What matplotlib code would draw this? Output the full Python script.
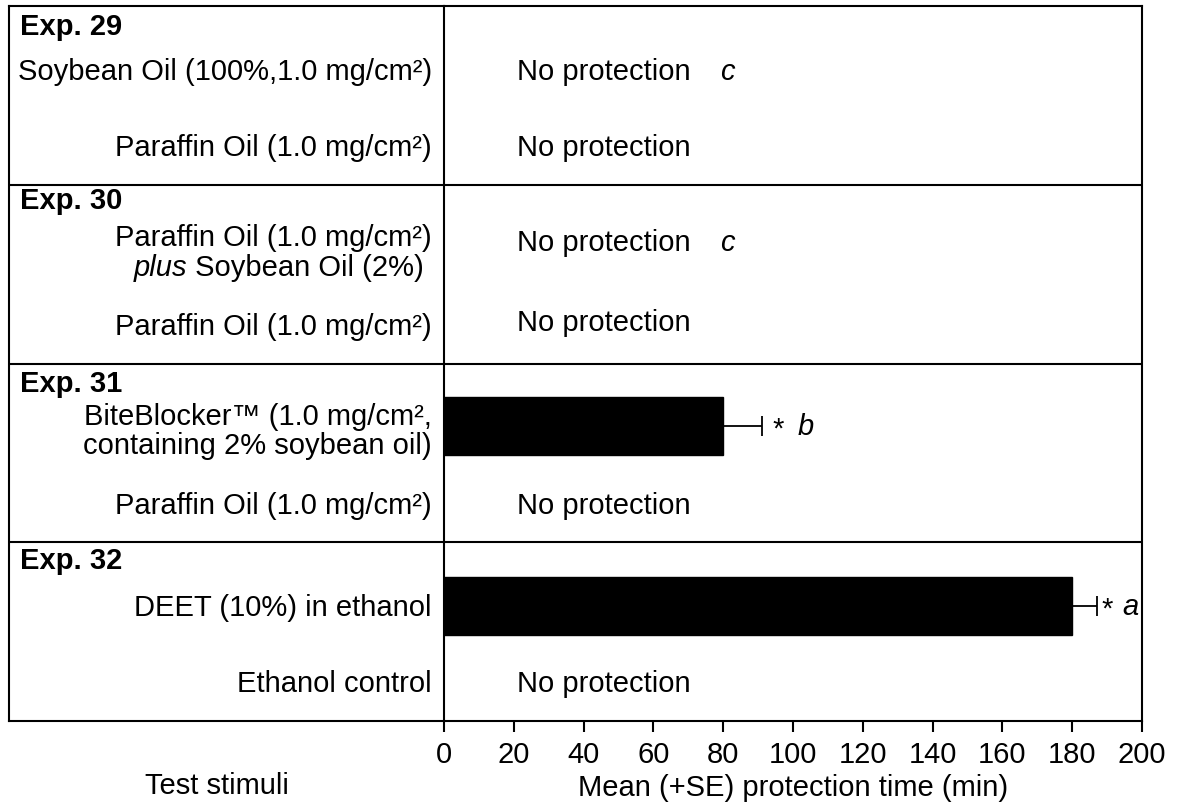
import matplotlib
matplotlib.use("Agg")
import matplotlib.pyplot as plt
import numpy as np

plt.rcParams['font.family'] = ['Liberation Sans', 'DejaVu Sans']

# --- data -------------------------------------------------------------
experiments = ["Exp. 29", "Exp. 30", "Exp. 31", "Exp. 32"]

stimuli = [
    "Soybean Oil (100%,1.0 mg/cm²)",
    "Paraffin Oil (1.0 mg/cm²)",
    "Paraffin Oil (1.0 mg/cm²)\nplus Soybean Oil (2%) ",
    "Paraffin Oil (1.0 mg/cm²)",
    "BiteBlocker™ (1.0 mg/cm²,\ncontaining 2% soybean oil)",
    "Paraffin Oil (1.0 mg/cm²)",
    "DEET (10%) in ethanol",
    "Ethanol control",
]
italic_words = ["plus"]
stim_exp = [0, 0, 1, 1, 2, 2, 3, 3]          # experiment each stimulus belongs to
mean_time = [0, 0, 0, 0, 80, 0, 180, 0]      # mean protection time (min)
se_time = [0, 0, 0, 0, 11, 0, 7, 0]          # standard error (min)
letters = ["c", "", "c", "", "b", "", "a", ""]
significant = [False, False, False, False, True, False, True, False]
xticks = list(range(0, 201, 20))

# --- layout within each experiment block (block height = 1) -------------
row_offset = [0.365, 0.79, 0.32, 0.77, 0.35, 0.79, 0.355, 0.79]
label_offset = [0.365, 0.79, 0.375, 0.79, 0.375, 0.79, 0.36, 0.79]
exp_title_offset = [0.11, 0.085, 0.11, 0.10]
line_step = 0.166

W, H = 1179, 812
fig = plt.figure(figsize=(W / 100, H / 100), dpi=100)
bottom_px, top_px = 722, 7
left_px, mid_px, right_px = 9, 444, 1142
ax_h = (bottom_px - top_px) / H
ax_y = 1 - bottom_px / H
axL = fig.add_axes([left_px / W, ax_y, (mid_px - left_px) / W, ax_h])
axR = fig.add_axes([mid_px / W, ax_y, (right_px - mid_px) / W, ax_h])

n_exp = len(experiments)
lw = 1.5
fs = 21

for ax in (axL, axR):
    ax.set_ylim(n_exp, 0)
    for s in ax.spines.values():
        s.set_linewidth(lw)
    for k in range(1, n_exp):
        ax.axhline(k, color="black", lw=lw)

# left panel: stimulus names
axL.set_xlim(0, 1)
axL.set_xticks([])
axL.set_yticks([])
axL.spines['right'].set_visible(False)
for i, name in enumerate(experiments):
    axL.text(0.025, i + exp_title_offset[i], name, fontsize=fs, fontweight="bold",
             ha="left", va="center")

x_right = 0.972
for j, lab in enumerate(stimuli):
    lines = lab.split("\n")
    yc = stim_exp[j] + label_offset[j]
    y0 = yc - line_step * (len(lines) - 1) / 2
    for k, line in enumerate(lines):
        yl = y0 + k * line_step
        first, _, rest = line.partition(" ")
        if first in italic_words:
            t = axL.text(x_right, yl, " " + rest, fontsize=fs, ha="right", va="center")
            axL.annotate(first, xy=(0, 0.5), xycoords=t, fontsize=fs,
                         style="italic", ha="right", va="center")
        else:
            axL.text(x_right, yl, line, fontsize=fs, ha="right", va="center")

# right panel: bars
y = np.array([stim_exp[j] + row_offset[j] for j in range(len(stimuli))])
mt = np.array(mean_time, dtype=float)
se = np.array(se_time, dtype=float)
has = mt > 0
axR.barh(y[has], mt[has], height=0.325, color="black", edgecolor="black")
axR.errorbar(mt[has], y[has], xerr=[np.zeros(has.sum()), se[has]], fmt="none",
             ecolor="black", elinewidth=1.3, capsize=7.2, capthick=1.3)

for j in range(len(stimuli)):
    if mt[j] > 0:
        xe = mt[j] + se[j]
        wide = mt[j] < 100
        if significant[j]:
            axR.text(xe + (3.0 if wide else 1.5), y[j] + 0.015, "*", fontsize=fs,
                     ha="left", va="center")
        axR.text(xe + (10.2 if wide else 7.4), y[j], letters[j], fontsize=fs,
                 style="italic", ha="left", va="center")
    else:
        axR.text(21, y[j], "No protection", fontsize=fs, ha="left", va="center")
        if letters[j]:
            axR.text(79, y[j], letters[j], fontsize=fs, style="italic",
                     ha="left", va="center")

axR.set_xlim(0, 200)
axR.set_xticks(xticks)
axR.set_xticklabels([str(t) for t in xticks], fontsize=fs)
axR.tick_params(axis="x", direction="out", length=8, width=lw, pad=6)
axR.set_yticks([])
axR.set_xlabel("Mean (+SE) protection time (min)", fontsize=fs, labelpad=3)

fig.text(217 / W, 1 - 786 / H, "Test stimuli", fontsize=fs, ha="center", va="center")

fig.savefig("out.png", dpi=100)
